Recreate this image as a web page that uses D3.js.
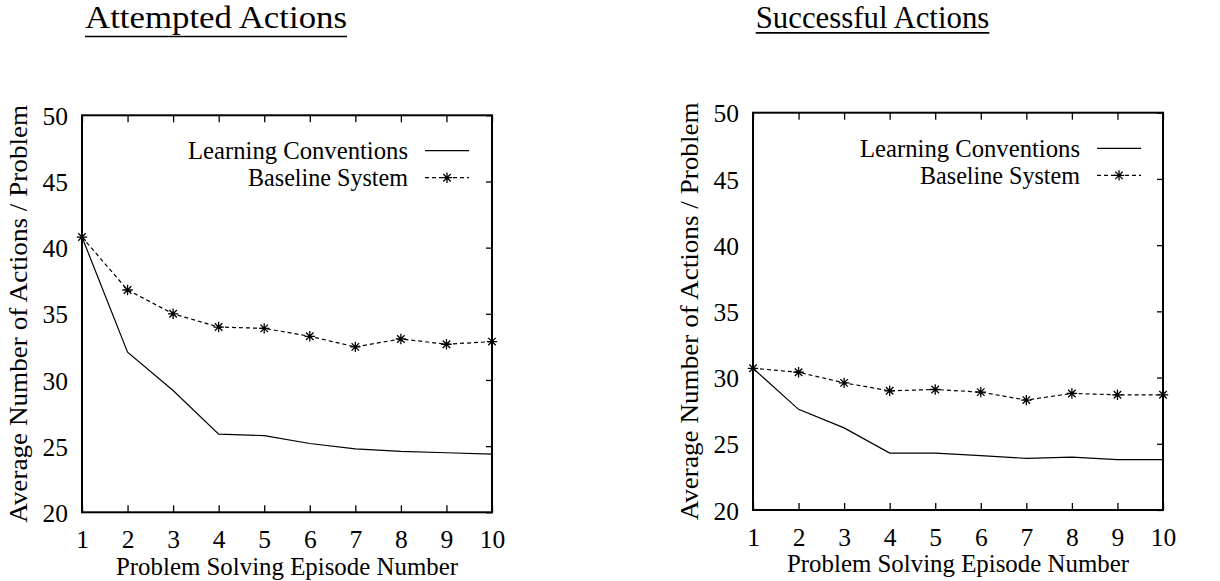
<!DOCTYPE html>
<html>
<head>
<meta charset="utf-8">
<script src="https://cdn.jsdelivr.net/npm/d3@7/dist/d3.min.js"></script>
<style>
  html, body { margin: 0; padding: 0; background: #fff; }
  svg { display: block; }
  text { font-family: "Liberation Serif", "Times New Roman", serif; fill: #000; }
</style>
</head>
<body>
<svg id="chart" width="1220" height="581"></svg>
<script>
// ---- data ----
const episodes = [1, 2, 3, 4, 5, 6, 7, 8, 9, 10];
const yTicks = [20, 25, 30, 35, 40, 45, 50];
const seriesNames = ["Learning Conventions", "Baseline System"];
const panelTitles = ["Attempted Actions", "Successful Actions"];
const attemptedLearning = [40.8, 32.1, 29.2, 25.9, 25.8, 25.2, 24.8, 24.6, 24.5, 24.4];
const attemptedBaseline = [40.8, 36.8, 35.0, 34.0, 33.9, 33.3, 32.5, 33.1, 32.7, 32.9];
const successfulLearning = [30.7, 27.6, 26.2, 24.3, 24.3, 24.1, 23.9, 24.0, 23.8, 23.8];
const successfulBaseline = [30.7, 30.4, 29.6, 29.0, 29.1, 28.9, 28.3, 28.8, 28.7, 28.7];
const xLabel = "Problem Solving Episode Number";
const yLabel = "Average Number of Actions / Problem";

const svg = d3.select("#chart");
const FONT = "'Liberation Serif', 'Times New Roman', serif";

const panels = [
  { title: panelTitles[0], titleX: 85, titleW: 262, titleY: 28, ulY: 36.5,
    left: 82, right: 492, top: 115.3, bottom: 512.3,
    learning: attemptedLearning, baseline: attemptedBaseline,
    legendX: 408, legendY: 159, yTitleX: 27, xTitleY: 575 },
  { title: panelTitles[1], titleX: 755.7, titleW: 233.6, titleY: 27.5, ulY: 32.8,
    left: 753, right: 1163, top: 112.7, bottom: 510,
    learning: successfulLearning, baseline: successfulBaseline,
    legendX: 1080, legendY: 156.7, yTitleX: 698, xTitleY: 572 }
];

function starPath(cx, cy, r) {
  const d = r * 0.72;
  return `M${cx - r},${cy}L${cx + r},${cy}M${cx},${cy - r}L${cx},${cy + r}` +
         `M${cx - d},${cy - d}L${cx + d},${cy + d}M${cx - d},${cy + d}L${cx + d},${cy - d}`;
}

panels.forEach(p => {
  const g = svg.append("g");
  const x = d3.scaleLinear().domain([1, 10]).range([p.left, p.right]);
  const y = d3.scaleLinear().domain([20, 50]).range([p.bottom, p.top]);

  // title with underline
  g.append("text")
    .attr("x", p.titleX).attr("y", p.titleY)
    .attr("font-size", 31).style("font-family", FONT)
    .attr("textLength", p.titleW).attr("lengthAdjust", "spacingAndGlyphs")
    .text(p.title);
  g.append("line")
    .attr("x1", p.titleX).attr("x2", p.titleX + p.titleW)
    .attr("y1", p.ulY).attr("y2", p.ulY)
    .attr("stroke", "#000").attr("stroke-width", 1.7);

  // axes
  const bottomAx = g.append("g").attr("transform", `translate(0,${p.bottom})`)
    .call(d3.axisBottom(x).tickValues(episodes).tickSizeInner(-7).tickSizeOuter(0).tickPadding(0));
  bottomAx.selectAll("text").attr("dy", null).attr("y", 36).attr("font-size", 25.5)
    .style("font-family", FONT);
  const topAx = g.append("g").attr("transform", `translate(0,${p.top})`)
    .call(d3.axisTop(x).tickValues(episodes).tickSizeInner(-7).tickSizeOuter(0).tickFormat(""));
  const leftAx = g.append("g").attr("transform", `translate(${p.left},0)`)
    .call(d3.axisLeft(y).tickValues(yTicks).tickSizeInner(0).tickSizeOuter(0).tickPadding(14));
  leftAx.selectAll("text").attr("dy", "0.36em").attr("font-size", 25.5)
    .style("font-family", FONT);
  const rightAx = g.append("g").attr("transform", `translate(${p.right},0)`)
    .call(d3.axisRight(y).tickValues(yTicks).tickSizeInner(-6).tickSizeOuter(0).tickFormat(""));
  [bottomAx, topAx, leftAx, rightAx].forEach(a => {
    a.attr("font-family", null);
    a.select(".domain").remove();
    a.selectAll("line").attr("stroke", "#000").attr("stroke-width", 1.3);
  });

  // frame
  g.append("rect")
    .attr("x", p.left).attr("y", p.top)
    .attr("width", p.right - p.left).attr("height", p.bottom - p.top)
    .attr("fill", "none").attr("stroke", "#000").attr("stroke-width", 2);

  // axis titles
  g.append("text")
    .attr("x", (p.left + p.right) / 2).attr("y", p.xTitleY)
    .attr("text-anchor", "middle").attr("font-size", 25).style("font-family", FONT)
    .attr("textLength", 342).attr("lengthAdjust", "spacingAndGlyphs")
    .text(xLabel);
  g.append("text")
    .attr("transform", `translate(${p.yTitleX},${(p.top + p.bottom) / 2}) rotate(-90)`)
    .attr("text-anchor", "middle").attr("font-size", 26).style("font-family", FONT)
    .attr("textLength", 418).attr("lengthAdjust", "spacingAndGlyphs")
    .text(yLabel);

  // lines
  const lineGen = d3.line().x((d, i) => x(episodes[i])).y(d => y(d));
  g.append("path").datum(p.learning)
    .attr("d", lineGen).attr("fill", "none")
    .attr("stroke", "#000").attr("stroke-width", 1.2);
  g.append("path").datum(p.baseline)
    .attr("d", lineGen).attr("fill", "none")
    .attr("stroke", "#000").attr("stroke-width", 1.2).attr("stroke-dasharray", "4,3");
  g.selectAll(".star").data(p.baseline).enter().append("path")
    .attr("class", "star")
    .attr("d", (d, i) => starPath(x(episodes[i]), y(d), 5.2))
    .attr("stroke", "#000").attr("stroke-width", 1.3).attr("fill", "none");

  // legend
  const lg = g.append("g");
  seriesNames.forEach((name, k) => {
    const by = p.legendY + k * 27;
    const ly = by - 8.3;
    lg.append("text").attr("x", p.legendX).attr("y", by)
      .attr("text-anchor", "end").attr("font-size", 25).style("font-family", FONT)
      .attr("textLength", k === 0 ? 220 : 160).attr("lengthAdjust", "spacingAndGlyphs")
      .text(name);
    const l = lg.append("line")
      .attr("x1", p.legendX + 17).attr("x2", p.legendX + 61)
      .attr("y1", ly).attr("y2", ly)
      .attr("stroke", "#000").attr("stroke-width", 1.2);
    if (k === 1) {
      l.attr("stroke-dasharray", "4,3");
      lg.append("path").attr("d", starPath(p.legendX + 39, ly, 5.2))
        .attr("stroke", "#000").attr("stroke-width", 1.3).attr("fill", "none");
    }
  });
});
</script>
</body>
</html>
